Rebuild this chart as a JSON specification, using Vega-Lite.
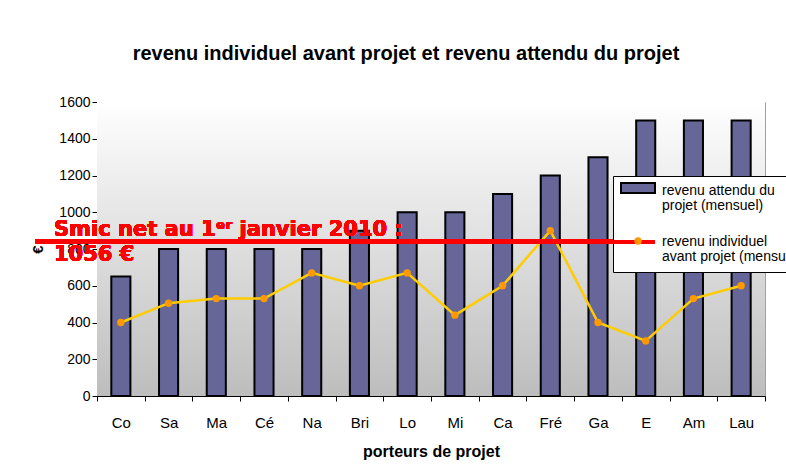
{
  "$schema": "https://vega.github.io/schema/vega-lite/v6.json",
  "width": 668,
  "height": 294,
  "autosize": {"type": "none"},
  "padding": {"left": 97, "top": 102, "right": 21, "bottom": 77},
  "background": "white",
  "title": {
    "text": "revenu individuel avant projet et revenu attendu du projet",
    "font": "Liberation Sans",
    "fontSize": 20,
    "fontWeight": "bold",
    "color": "black",
    "anchor": "middle",
    "dx": -25,
    "baseline": "alphabetic",
    "offset": 15
  },
  "data": {
    "values": [
      {"porteur": "Co", "attendu": 650, "avant": 400},
      {"porteur": "Sa", "attendu": 800, "avant": 505},
      {"porteur": "Ma", "attendu": 800, "avant": 530},
      {"porteur": "Cé", "attendu": 800, "avant": 530},
      {"porteur": "Na", "attendu": 800, "avant": 670},
      {"porteur": "Bri", "attendu": 900, "avant": 600},
      {"porteur": "Lo", "attendu": 1000, "avant": 670},
      {"porteur": "Mi", "attendu": 1000, "avant": 440},
      {"porteur": "Ca", "attendu": 1100, "avant": 600},
      {"porteur": "Fré", "attendu": 1200, "avant": 900},
      {"porteur": "Ga", "attendu": 1300, "avant": 400},
      {"porteur": "E", "attendu": 1500, "avant": 300},
      {"porteur": "Am", "attendu": 1500, "avant": 530},
      {"porteur": "Lau", "attendu": 1500, "avant": 600}
    ]
  },
  "resolve": {"scale": {"shape": "independent"}, "legend": {"shape": "independent"}},
  "encoding": {
    "x": {
      "field": "porteur",
      "type": "nominal",
      "sort": null,
      "scale": {"paddingInner": 0, "paddingOuter": 0},
      "axis": {
        "title": "porteurs de projet",
        "labelAngle": 0,
        "labelFont": "Liberation Sans",
        "labelFontSize": 15,
        "labelColor": "black",
        "labelPadding": 14,
        "tickBand": "extent",
        "tickColor": "black",
        "tickSize": 5,
        "domainColor": "black",
        "titleFont": "Liberation Sans",
        "titleFontSize": 16,
        "titleFontWeight": "bold",
        "titleColor": "black",
        "titlePadding": 13
      }
    }
  },
  "layer": [
    {
      "data": {"values": [{}]},
      "mark": {
        "type": "rect",
        "color": {
          "gradient": "linear",
          "x1": 0, "y1": 0, "x2": 0, "y2": 1,
          "stops": [
            {"offset": 0, "color": "#ffffff"},
            {"offset": 1, "color": "#bdbdbd"}
          ]
        }
      },
      "encoding": {
        "x": {"value": 0},
        "x2": {"value": "width"},
        "y": {"value": 0},
        "y2": {"value": "height"}
      }
    },
    {
      "mark": {"type": "bar", "fill": "#666699", "stroke": "black", "strokeWidth": 2, "width": {"band": 0.4}},
      "encoding": {
        "y": {
          "field": "attendu",
          "type": "quantitative",
          "scale": {"domain": [0, 1600], "nice": false},
          "axis": {"title": "€", "values": [0, 200, 400, 600, 800, 1000, 1200, 1400, 1600], "format": "d", "labelOverlap": false}
        }
      }
    },
    {
      "mark": {"type": "line", "stroke": "#FFCC00", "strokeWidth": 2.5},
      "encoding": {
        "y": {"field": "avant", "type": "quantitative", "axis": {"title": "€", "values": [0, 200, 400, 600, 800, 1000, 1200, 1400, 1600], "format": "d", "labelOverlap": false}}
      }
    },
    {
      "mark": {"type": "point", "filled": true, "color": "#FF9900", "opacity": 1, "size": 55},
      "encoding": {
        "y": {"field": "avant", "type": "quantitative", "axis": {"title": "€", "values": [0, 200, 400, 600, 800, 1000, 1200, 1400, 1600], "format": "d", "labelOverlap": false}},
        "shape": {
          "datum": "revenu individuel avant projet (mensuel)",
          "type": "nominal",
          "scale": {"range": ["circle"]},
          "legend": {
            "title": null,
            "orient": "none",
            "legendX": 537,
            "legendY": 135,
            "padding": 0,
            "zindex": 2,
            "labelExpr": "''",
            "labelFontSize": 1,
            "labelOffset": 0,
            "symbolSize": 55,
            "symbolFillColor": "#FF9900",
            "symbolStrokeWidth": 0,
            "symbolOpacity": 1
          }
        }
      }
    },
    {
      "data": {
        "values": [
          {"serie": "revenu attendu du projet (mensuel)"},
          {"serie": "revenu individuel avant projet (mensuel)"}
        ]
      },
      "mark": {
        "type": "point",
        "filled": false,
        "opacity": 0,
        "fill": {"expr": "datum.value == 'revenu attendu du projet (mensuel)' ? '#666699' : 'transparent'"},
        "stroke": {"expr": "datum.value == 'revenu attendu du projet (mensuel)' ? 'black' : '#FF0000'"},
        "strokeWidth": {"expr": "datum.value == 'revenu attendu du projet (mensuel)' ? 2 : 4"}
      },
      "encoding": {
        "x": {"value": 0},
        "y": {"value": 0},
        "shape": {
          "field": "serie",
          "type": "nominal",
          "scale": {
            "domain": ["revenu attendu du projet (mensuel)", "revenu individuel avant projet (mensuel)"],
            "range": ["M-0.412,-0.47H1.588V0.118H-0.412Z", "M-0.882,0H1.588"]
          },
          "legend": {
            "title": null,
            "orient": "none",
            "legendX": 516,
            "legendY": 74,
            "zindex": 1,
            "fillColor": "white",
            "strokeColor": "black",
            "padding": 8,
            "labelFont": "Liberation Sans",
            "labelFontSize": 14,
            "labelColor": "black",
            "labelBaseline": "middle",
            "labelOffset": 27,
            "labelLimit": 400,
            "rowPadding": 21,
            "symbolSize": 1156,
            "symbolOpacity": 1,
            "symbolStrokeWidth": {"expr": "datum.value == 'revenu attendu du projet (mensuel)' ? 2 : 4"},
            "labelExpr": "datum.label == 'revenu attendu du projet (mensuel)' ? ['revenu attendu du', 'projet (mensuel)'] : ['revenu individuel', 'avant projet (mensuel)']"
          }
        }
      }
    },
    {
      "mark": {"type": "rule", "color": "#FF0000", "strokeWidth": 4, "xOffset": -62},
      "encoding": {
        "x": {"datum": "Co", "bandPosition": 0},
        "x2": {"datum": "E"},
        "y": {"datum": 840, "type": "quantitative", "axis": {"title": "€", "values": [0, 200, 400, 600, 800, 1000, 1200, 1400, 1600], "format": "d", "labelOverlap": false}}
      }
    },
    {
      "mark": {
        "type": "text",
        "text": ["Smic net au 1ᵉʳ janvier 2010 :", "1056 €"],
        "font": "DejaVu Sans",
        "fontSize": 21,
        "fontWeight": "bold",
        "color": "#FF0000",
        "align": "left",
        "baseline": "middle",
        "lineHeight": 25,
        "dx": -43,
        "dy": -12
      },
      "encoding": {
        "x": {"datum": "Co", "bandPosition": 0},
        "y": {"datum": 840, "type": "quantitative", "axis": {"title": "€", "values": [0, 200, 400, 600, 800, 1000, 1200, 1400, 1600], "format": "d", "labelOverlap": false}}
      }
    }
  ],
  "config": {
    "view": {"stroke": "#a0a0a0", "strokeWidth": 1},
    "style": {"guide-label": {"lineHeight": 15}},
    "axisY": {
      "grid": false,
      "labelFont": "Liberation Sans",
      "labelFontSize": 14,
      "labelColor": "black",
      "labelOverlap": false,
      "tickColor": "black",
      "tickSize": 5,
      "domainColor": "black",
      "titleFont": "Liberation Sans",
      "titleFontSize": 15,
      "titleFontWeight": "bold",
      "titleColor": "black",
      "titlePadding": 13
    }
  }
}
